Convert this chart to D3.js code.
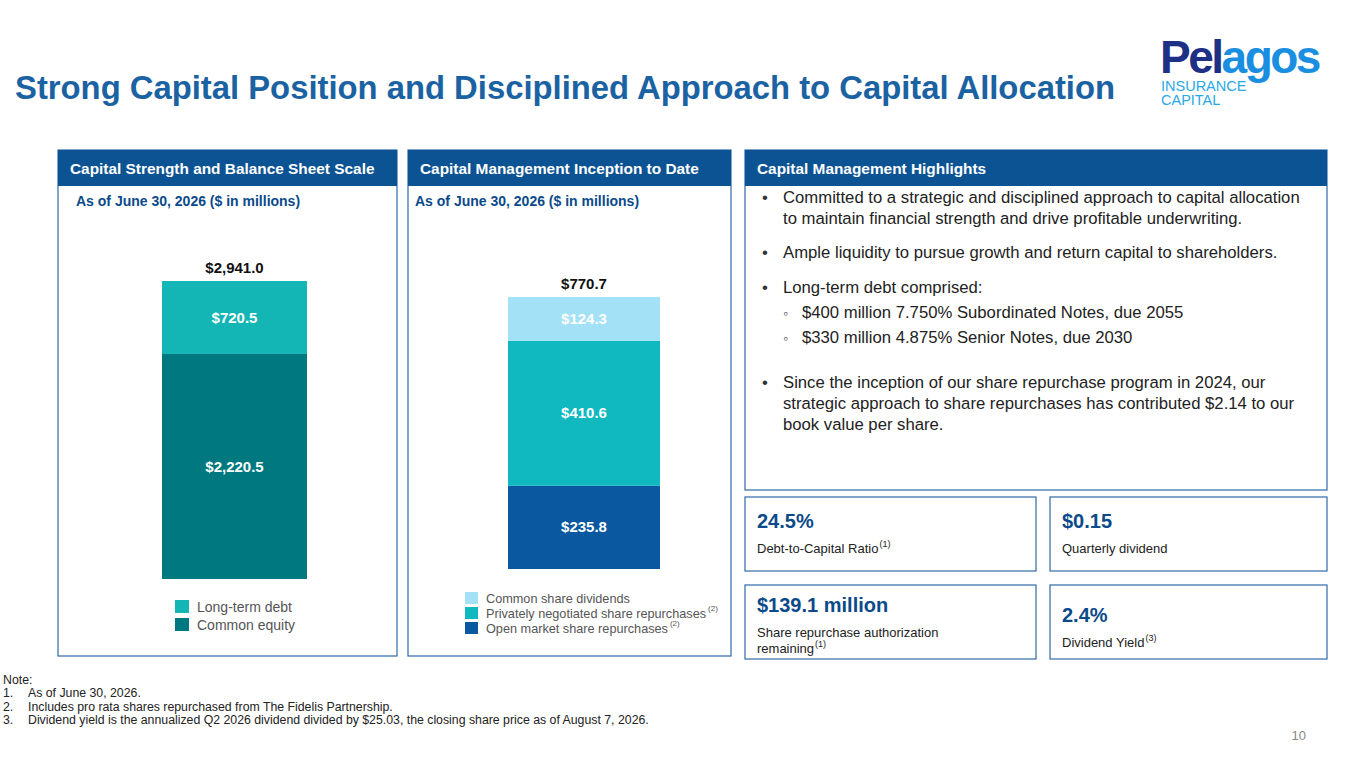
<!DOCTYPE html>
<html><head><meta charset="utf-8">
<script src="https://cdn.jsdelivr.net/npm/d3@7/dist/d3.min.js"></script>
<style>body{margin:0;background:#fff;}svg{font-family:Arial,"Liberation Sans",sans-serif;}</style>
</head><body>
<script>
const capCategories=["Common equity","Long-term debt"];
const capValues=[2220.5,720.5];
const capTotal="$2,941.0";
const mgmtCategories=["Open market share repurchases","Privately negotiated share repurchases","Common share dividends"];
const mgmtValues=[235.8,410.6,124.3];
const mgmtTotal="$770.7";
const fmt=v=>"$"+d3.format(",.1f")(v);

const W=1365,H=768;
const svg=d3.select("body").append("svg").attr("width",W).attr("height",H);
const blue="#0c5394", dark="#0b4a8a";
svg.append("text").attr("x",15).attr("y",99).attr("font-size",32.8).attr("font-weight","bold").attr("fill","#1b62a3")
 .text("Strong Capital Position and Disciplined Approach to Capital Allocation");
// logo
const lt=svg.append("text").attr("x",1160).attr("y",73).attr("font-size",46).attr("font-weight","bold").attr("letter-spacing",-2.5);
lt.append("tspan").attr("fill","#1e2f86").text("Pel");
lt.append("tspan").attr("fill","#1a8ee0").text("agos");
svg.append("text").attr("x",1161).attr("y",91).attr("font-size",14.5).attr("fill","#29a9e6").text("INSURANCE");
svg.append("text").attr("x",1161).attr("y",105).attr("font-size",14.5).attr("fill","#29a9e6").text("CAPITAL");

function panel(x,w,y2,title){
 svg.append("rect").attr("x",x).attr("y",150).attr("width",w).attr("height",y2-150).attr("fill","none").attr("stroke","#2d69a8").attr("stroke-width",1.2);
 svg.append("rect").attr("x",x).attr("y",150).attr("width",w).attr("height",36).attr("fill",blue);
 svg.append("text").attr("x",x+12).attr("y",174).attr("font-size",15.4).attr("font-weight","bold").attr("fill","#fff").text(title);
}
panel(58,339,656,"Capital Strength and Balance Sheet Scale");
panel(408,323,656,"Capital Management Inception to Date");
panel(745,582,490,"Capital Management Highlights");
[[76],[415]].forEach(([x])=>svg.append("text").attr("x",x).attr("y",206).attr("font-size",14).attr("font-weight","bold").attr("fill",dark).text("As of June 30, 2026 ($ in millions)"));

function stack(vals,cols,x0,x1,bottom,topPx,totalLabel){
 const y=d3.scaleLinear().domain([0,d3.sum(vals)]).range([bottom,topPx]);
 let c=0;
 vals.forEach((v,i)=>{
  const a=y(c),b=y(c+v);c+=v;
  svg.append("rect").attr("x",x0).attr("y",b).attr("width",x1-x0).attr("height",a-b).attr("fill",cols[i]);
  svg.append("text").attr("x",(x0+x1)/2).attr("y",(a+b)/2+5).attr("text-anchor","middle").attr("font-size",15).attr("font-weight","bold").attr("fill","#fff").text(fmt(v));
 });
 svg.append("text").attr("x",(x0+x1)/2).attr("y",topPx-8).attr("text-anchor","middle").attr("font-size",15).attr("font-weight","bold").attr("fill","#111").text(totalLabel);
}
const capCols=["#007880","#13b5b5"];
stack(capValues,capCols,162,307,579,281,capTotal);
const mCols=["#0a58a0","#10b8c0","#a3e1f6"];
stack(mgmtValues,mCols,508,660,569,297,mgmtTotal);

// legends
[[1,"Long-term debt",600],[0,"Common equity",618]].forEach(([i,t,y])=>{
 svg.append("rect").attr("x",175).attr("y",y).attr("width",14).attr("height",13).attr("fill",capCols[i]);
 svg.append("text").attr("x",197).attr("y",y+12).attr("font-size",14).attr("fill","#555").text(t);
});
[[2,"Common share dividends",592,""],[1,"Privately negotiated share repurchases",607,"(2)"],[0,"Open market share repurchases",622,"(2)"]].forEach(([i,t,y,s])=>{
 svg.append("rect").attr("x",465).attr("y",y).attr("width",13).attr("height",12).attr("fill",mCols[i]);
 const tx=svg.append("text").attr("x",486).attr("y",y+11).attr("font-size",12.7).attr("fill","#555").text(t);
 if(s){const w=tx.node().getComputedTextLength();svg.append("text").attr("x",486+w+2).attr("y",y+4).attr("font-size",8).attr("fill","#555").text(s);}
});

// bullets
const bl=[
 ["•",203,"Committed to a strategic and disciplined approach to capital allocation"],
 ["",224,"to maintain financial strength and drive profitable underwriting."],
 ["•",258,"Ample liquidity to pursue growth and return capital to shareholders."],
 ["•",293,"Long-term debt comprised:"],
 ["◦",318,"$400 million 7.750% Subordinated Notes, due 2055"],
 ["◦",343,"$330 million 4.875% Senior Notes, due 2030"],
 ["•",388,"Since the inception of our share repurchase program in 2024, our"],
 ["",409,"strategic approach to share repurchases has contributed $2.14 to our"],
 ["",430,"book value per share."]];
bl.forEach(([b,y,t])=>{
 let x=783;
 if(b==="•")svg.append("text").attr("x",762).attr("y",y).attr("font-size",16.7).attr("fill","#333").text("•");
 if(b==="◦"){svg.append("text").attr("x",783).attr("y",y).attr("font-size",14).attr("fill","#333").text("◦");x=802;}
 svg.append("text").attr("x",x).attr("y",y).attr("font-size",16.7).attr("fill","#222").text(t);
});

// KPI boxes
const kpis=[[745,497,291,"24.5%",["Debt-to-Capital Ratio"],"(1)"],[1050,497,277,"$0.15",["Quarterly dividend"],""],
 [745,585,291,"$139.1 million",["Share repurchase authorization","remaining"],"(1)"],[1050,585,277,"2.4%",["Dividend Yield"],"(3)"]];
kpis.forEach(([x,y,w,big,lines,sup],k)=>{
 svg.append("rect").attr("x",x).attr("y",y).attr("width",w).attr("height",74).attr("fill","none").attr("stroke","#2d69a8").attr("stroke-width",1.2);
 const off=(k==3)?6:(k==2?-4:0);
 svg.append("text").attr("x",x+12).attr("y",y+31+off).attr("font-size",20).attr("font-weight","bold").attr("fill",dark).text(big);
 lines.forEach((l,j)=>{
  const t=svg.append("text").attr("x",x+12).attr("y",y+56+off+j*16).attr("font-size",13).attr("fill","#222").text(l);
  if(j===lines.length-1&&sup){const ww=t.node().getComputedTextLength();svg.append("text").attr("x",x+13+ww).attr("y",y+50+off+j*16).attr("font-size",9).attr("fill","#222").text(sup);}
 });
});

// notes
const nf=12.3;
svg.append("text").attr("x",3).attr("y",684).attr("font-size",nf).attr("fill","#222").text("Note:");
["As of June 30, 2026.","Includes pro rata shares repurchased from The Fidelis Partnership.",
 "Dividend yield is the annualized Q2 2026 dividend divided by $25.03, the closing share price as of August 7, 2026."]
 .forEach((t,i)=>{
  svg.append("text").attr("x",3).attr("y",697+i*13.5).attr("font-size",nf).attr("fill","#222").text((i+1)+".");
  svg.append("text").attr("x",28).attr("y",697+i*13.5).attr("font-size",nf).attr("fill","#222").text(t);
 });
svg.append("text").attr("x",1306).attr("y",740).attr("text-anchor","end").attr("font-size",13).attr("fill","#888").text("10");
</script></body></html>
